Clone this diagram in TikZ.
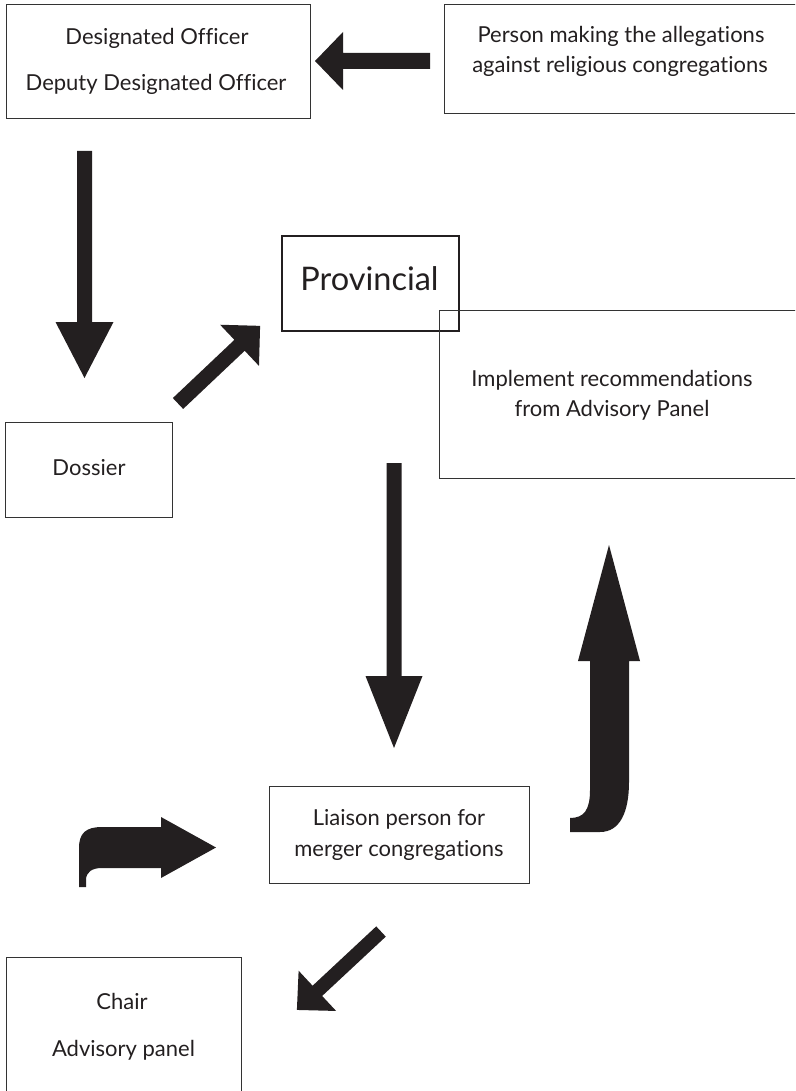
\documentclass[tikz,border=0pt]{standalone}
\usepackage{fontspec}
\setmainfont{Lato}[Ligatures=NoCommon]
\definecolor{ink}{HTML}{231F20}
\definecolor{edge}{HTML}{333333}
\begin{document}
\begin{tikzpicture}[x=1pt,y=-1pt,
  box/.style={draw=edge, line width=0.9pt, inner sep=0pt},
  thickbox/.style={draw=ink, line width=2.2pt, inner sep=0pt},
  txt/.style={anchor=base, text=ink, font=\fontsize{22}{26}\selectfont, inner sep=0pt},
  big/.style={anchor=base, text=ink, font=\fontsize{32.5}{38}\selectfont, inner sep=0pt},
  pics/blockarrow/.style n args={4}{code={%
    \fill[ink] (0,-#2/2) -- (#1-#4,-#2/2) -- (#1-#4,-#3/2) -- (#1,0) -- (#1-#4,#3/2) -- (#1-#4,#2/2) -- (0,#2/2) -- cycle;}}
]
\useasboundingbox (0,0) rectangle (795,1091);
\clip (0,0) rectangle (795,1091);

% boxes
\node[box, minimum width=304pt, minimum height=114pt] (do) at (158,61) {};
\node[box, minimum width=356pt, minimum height=109pt] (person) at (622,58.5) {};
\node[thickbox, minimum width=177pt, minimum height=95pt] (prov) at (370.5,283.5) {};
\node[box, minimum width=361pt, minimum height=168pt] (impl) at (619.5,394) {};
\node[box, minimum width=167pt, minimum height=95pt] (dossier) at (88.5,469.5) {};
\node[box, minimum width=260pt, minimum height=97pt] (liaison) at (399,834.5) {};
\node[box, minimum width=235pt, minimum height=143pt] (chair) at (123.5,1028.5) {};

% texts
\node[txt] (doA) at (157,44.3) {Designated Officer};
\node[txt] (doB) at (156,90.7) {Deputy Designated Officer};
\node[txt] (pA) at (621,43) {Person making the allegations};
\node[txt] (pB) at (620,73) {against religious congregations};
\node[big] (provT) at (369.5,290) {Provincial};
\node[txt] (iA) at (612,386.7) {Implement recommendations};
\node[txt] (iB) at (612,416.7) {from Advisory Panel};
\node[txt] (dT) at (89,475.7) {Dossier};
\node[txt] (lA) at (399,825) {Liaison person for};
\node[txt] (lB) at (399,856.7) {merger congregations};
\node[txt] (cA) at (122,1009.3) {Chair};
\node[txt] (cB) at (123.5,1056.7) {Advisory panel};

% straight block arrows
\pic[rotate=180] at (430,61) {blockarrow={115}{16}{58}{28}};
\pic[rotate=-90] at (84.5,151) {blockarrow={227}{15}{58}{56}};
\pic[rotate=-90] at (394,463) {blockarrow={285}{15}{57}{72}};
\pic[rotate=43.4] at (178,403.5) {blockarrow={113}{15}{56.6}{28.3}};
\pic[rotate=223] at (381,931.5) {blockarrow={115}{14}{55}{28}};

% bent arrow into liaison
\fill[ink] (79,887) -- (79,848) .. controls (79,833) and (86,827) .. (102,827) -- (161,827) -- (161,817) -- (216,847.5) -- (161,878) -- (161,868) -- (102,868) .. controls (92,868) and (86,872) .. (86,880) -- (86,887) -- cycle;

% J-shaped up arrow
\fill[ink] (609,545) -- (640,661) -- (629,661) -- (629,782) .. controls (629,812) and (620,832) .. (600,832) -- (570,832) -- (570,818) .. controls (584,818) and (590,810) .. (590,790) -- (590,661) -- (578,661) -- cycle;
\end{tikzpicture}
\end{document}
